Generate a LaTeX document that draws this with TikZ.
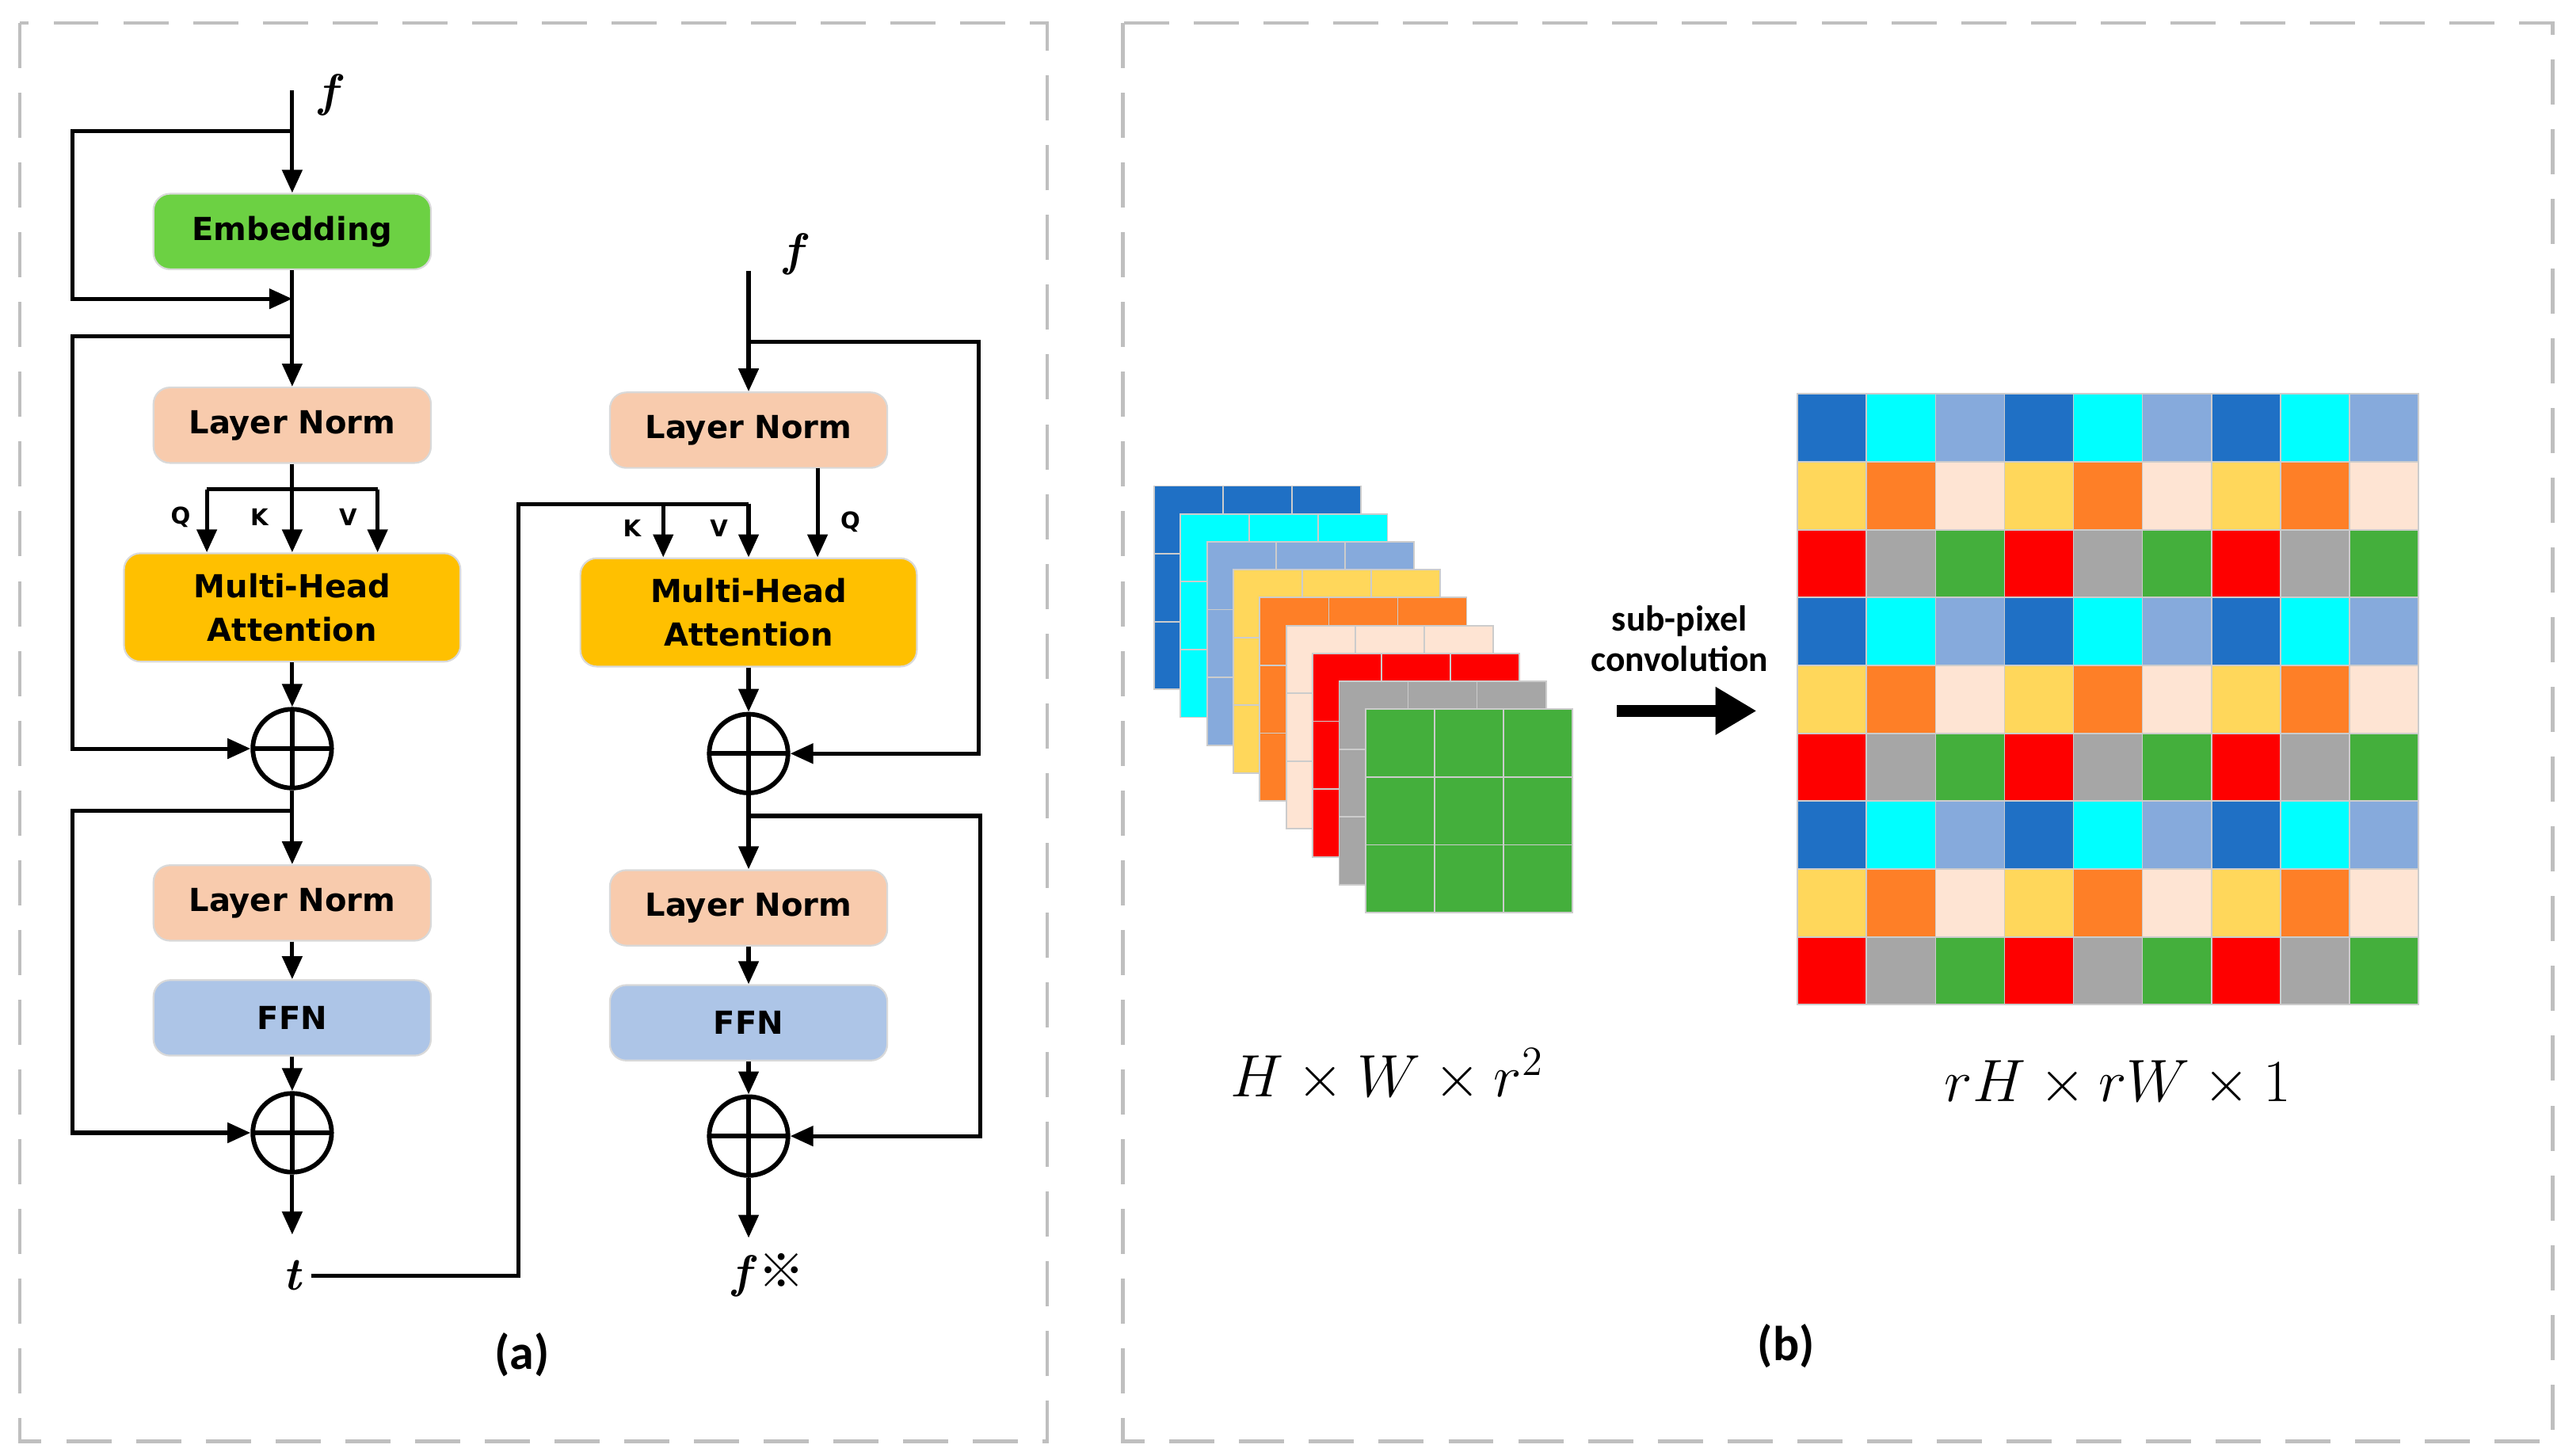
\documentclass[tikz,border=0pt]{standalone}
\usepackage{fontspec}
\setsansfont{DejaVu Sans}
\newfontfamily\cjk{Noto Sans CJK SC}
\newfontfamily\narrow{Carlito}
\usetikzlibrary{arrows.meta}
\definecolor{cblue}{HTML}{1F70C5}
\definecolor{ccyan}{HTML}{00FFFF}
\definecolor{clblue}{HTML}{86AADC}
\definecolor{cyel}{HTML}{FFD75B}
\definecolor{corg}{HTML}{FE7F27}
\definecolor{cpeach}{HTML}{FEE4D3}
\definecolor{cred}{HTML}{FE0000}
\definecolor{cgray}{HTML}{A6A6A6}
\definecolor{cgreen}{HTML}{44AF3C}
\definecolor{embg}{HTML}{6CD143}
\definecolor{lnc}{HTML}{F8CBAD}
\definecolor{mhac}{HTML}{FFC000}
\definecolor{ffnc}{HTML}{ADC5E7}
\begin{document}
\begin{tikzpicture}[x={(0.02cm,0)},y={(0,-0.02cm)},
  box/.style={rectangle, rounded corners=0.2cm, minimum width=3.38cm, minimum height=0.92cm,
    font=\sffamily\bfseries\fontsize{11}{13}\selectfont, align=center, draw=black!15, line width=0.6pt},
  mha/.style={box, fill=mhac, minimum width=4.1cm, minimum height=1.32cm, font=\sffamily\bfseries\fontsize{11}{15}\selectfont},
  plus/.style={circle, draw=black, line width=1.6pt, minimum size=0.96cm, inner sep=0pt,
    path picture={\draw[line width=1.6pt] (path picture bounding box.north) -- (path picture bounding box.south)
      (path picture bounding box.west) -- (path picture bounding box.east);}},
  line/.style={line width=1.4pt},
  arr/.style={line, -{Triangle[length=0.28cm,width=0.24cm]}},
  lbl/.style={font=\sffamily\bfseries\fontsize{8}{9}\selectfont},
  var/.style={font=\fontsize{16}{16}\selectfont\bfseries\itshape},
  frame/.style={draw=black!25, line width=1.2pt, dash pattern=on 0.55cm off 0.3cm},
  cell/.style={draw=black!20, line width=0.5pt}
]
\useasboundingbox (0,0) rectangle (1560,886.4);
\draw[frame] (12,14) rectangle (638,878);
\draw[frame] (684,14) rectangle (1555,878);

% ---- left encoder
\node[var] (f1) at (200,58) {f};
\coordinate (fin) at (178,55);
\node[box, fill=embg] (emb) at (178,141) {Embedding};
\coordinate (s1) at (178,80);
\coordinate (j1) at (178,182);
\coordinate (s2) at (178,205);
\node[box, fill=lnc] (ln1) at (178,259) {Layer Norm};
\coordinate (qkv) at (178,298);
\coordinate (q1) at (126,298);
\coordinate (v1) at (230,298);
\node[mha] (mha1) at (178,370) {Multi-Head\\Attention};
\node[plus] (p1) at (178,456) {};
\coordinate (s3) at (178,494);
\node[box, fill=lnc] (ln2) at (178,550) {Layer Norm};
\node[box, fill=ffnc] (ffn1) at (178,620) {FFN};
\node[plus] (p2) at (178,690) {};
\node[var] (t) at (178,777) {t};
\coordinate (tend) at (178,752);

\draw[arr] (fin) -- (emb);
\draw[arr] (s1) -- (44,80) -- (44,182) -- (j1);
\draw[line] (emb) -- (j1);
\draw[arr] (j1) -- (ln1);
\draw[arr] (s2) -- (44,205) -- (44,456) -- (p1);
\draw[line] (ln1) -- (qkv);
\draw[line] (q1) -- (v1);
\draw[arr] (q1) -- (mha1.north -| q1);
\draw[arr] (qkv) -- (mha1);
\draw[arr] (v1) -- (mha1.north -| v1);
\node[lbl] (lq1) at (110,315) {Q};
\node[lbl] (lk1) at (158,315) {K};
\node[lbl] (lv1) at (212,315) {V};
\draw[arr] (mha1) -- (p1);
\draw[arr] (p1) -- (ln2);
\draw[arr] (s3) -- (44,494) -- (44,690) -- (p2);
\draw[arr] (ln2) -- (ffn1);
\draw[arr] (ffn1) -- (p2);
\draw[arr] (p2) -- (tend);

% ---- right decoder
\node[var] (f2) at (483,155) {f};
\coordinate (fin2) at (456,165);
\coordinate (s4) at (456,208);
\node[box, fill=lnc] (ln3) at (456,262) {Layer Norm};
\coordinate (kv) at (456,307);
\coordinate (k2) at (404,307);
\coordinate (q2) at (498,285);
\node[mha] (mha2) at (456,373) {Multi-Head\\Attention};
\node[plus] (p3) at (456,459) {};
\coordinate (s5) at (456,497);
\node[box, fill=lnc] (ln4) at (456,553) {Layer Norm};
\node[box, fill=ffnc] (ffn2) at (456,623) {FFN};
\node[plus] (p4) at (456,692) {};
\coordinate (fend) at (456,754);
\node[var, anchor=west] (fo) at (440,777) {f\,{\cjk\mdseries\upshape ※}};

\draw[arr] (fin2) -- (ln3);
\draw[arr] (s4) -- (596,208) -- (596,459) -- (p3);
\draw[line] (t) -- (316,777) -- (316,307) -- (kv);
\draw[arr] (k2) -- (mha2.north -| k2);
\draw[arr] (kv) -- (mha2);
\draw[arr] (q2) -- (mha2.north -| q2);
\node[lbl] (lk2) at (385,322) {K};
\node[lbl] (lv2) at (438,322) {V};
\node[lbl] (lq2) at (518,318) {Q};
\draw[arr] (mha2) -- (p3);
\draw[arr] (p3) -- (ln4);
\draw[arr] (s5) -- (597,497) -- (597,692) -- (p4);
\draw[arr] (ln4) -- (ffn2);
\draw[arr] (ffn2) -- (p4);
\draw[arr] (p4) -- (fend);

\node[font=\narrow\bfseries\fontsize{17}{17}\selectfont] (la) at (318,825) {(a)};
\node[font=\narrow\bfseries\fontsize{17}{17}\selectfont] (lb) at (1088,820) {(b)};

% ---- sub-pixel stack
\foreach \c [count=\i from 0] in {cblue,ccyan,clblue,cyel,corg,cpeach,cred,cgray,cgreen}{
  \pgfmathsetmacro{\xo}{703+16.1*\i}
  \pgfmathsetmacro{\yo}{296+17*\i}
  \foreach \r in {0,1,2}{\foreach \k in {0,1,2}{
    \draw[cell, fill=\c] ({\xo+42*\k},{\yo+41.3*\r}) rectangle ++(42,41.3);
  }}
}
% big grid
\foreach \r in {0,...,8}{
  \pgfmathtruncatemacro{\m}{mod(\r,3)}
  \foreach \k in {0,...,8}{
    \pgfmathtruncatemacro{\n}{mod(\k,3)}
    \ifcase\m
      \ifcase\n \def\cc{cblue}\or \def\cc{ccyan}\else \def\cc{clblue}\fi
    \or
      \ifcase\n \def\cc{cyel}\or \def\cc{corg}\else \def\cc{cpeach}\fi
    \else
      \ifcase\n \def\cc{cred}\or \def\cc{cgray}\else \def\cc{cgreen}\fi
    \fi
    \draw[cell, fill=\cc] ({1095+42*\k},{240+41.33*\r}) rectangle ++(42,41.33);
  }
}
\coordinate (a0) at (985,433);
\coordinate (a1) at (1070,433);
\draw[line width=4pt, -{Triangle[length=0.5cm,width=0.55cm]}] (a0) -- (a1);
\node[font=\narrow\bfseries\fontsize{12.5}{14}\selectfont, align=center] (sp) at (1023,389) {sub-pixel\\convolution};
\node[font=\fontsize{20}{20}\selectfont] (m1) at (845,655) {$H\times W\times r^2$};
\node[font=\fontsize{20}{20}\selectfont] (m2) at (1290,660) {$rH\times rW\times 1$};
\end{tikzpicture}
\end{document}
